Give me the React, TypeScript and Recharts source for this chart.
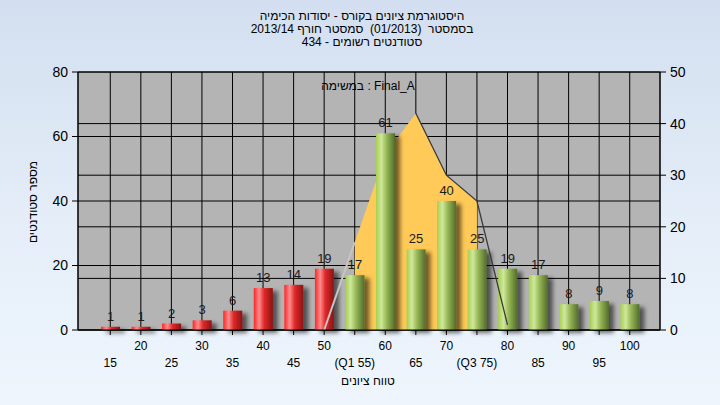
import React from 'react';
import {
  ComposedChart,
  Bar,
  Area,
  Line,
  XAxis,
  YAxis,
  CartesianGrid,
  LabelList,
} from 'recharts';

const categories = ['15', '20', '25', '30', '35', '40', '45', '50', '55', '60', '65', '70', '75', '80', '85', '90', '95', '100'];
const counts = [1, 1, 2, 3, 6, 13, 14, 19, 17, 61, 25, 40, 25, 19, 17, 8, 9, 8];
const tickLabels = ['15', '20', '25', '30', '35', '40', '45', '50', '(Q1 55)', '60', '65', '70', '(Q3 75)', '80', '85', '90', '95', '100'];
// distribution curve (right axis): filled between Q1 and Q3
const distInner: (number | null)[] = [null, null, null, null, null, null, null, null, 17, 34, 42, 30, 25, null, null, null, null, null];
const distLeft: (number | null)[] = [null, null, null, null, null, null, null, 0, 17, null, null, null, null, null, null, null, null, null];
const distRight: (number | null)[] = [null, null, null, null, null, null, null, null, null, null, 42, 30, 25, 1, null, null, null, null];
const passMark = 55;

const leftTicks = [0, 20, 40, 60, 80];
const rightTicks = [0, 10, 20, 30, 40, 50];

const titleLines = [
  'היסטוגרמת ציונים בקורס - יסודות הכימיה',
  'בסמסטר  (01/2013)  סמסטר חורף 2013/14',
  'סטודנטים רשומים - 434',
];
const legendText = 'במשימה : Final_A';
const yLabel = 'מספר סטודנטים';
const xLabel = 'טווח ציונים';

const FONT = '"Liberation Sans", Arial, "DejaVu Sans", sans-serif';

const data = categories.map((c, i) => ({
  cat: c,
  count: counts[i],
  inner: distInner[i],
  left: distLeft[i],
  right: distRight[i],
}));

const CylBar = (props: any) => {
  const { x, y, width, height, payload } = props;
  if (!height || height <= 0) return null;
  const g = Number(payload.cat) >= passMark ? 'gGreen' : 'gRed';
  return (
    <rect x={x} y={y} width={width} height={height} fill={`url(#${g})`} filter="url(#bshadow)" />
  );
};

const XTick = (props: any) => {
  const { x, y, payload, index } = props;
  const idx = typeof payload?.index === 'number' ? payload.index : index;
  const top = idx % 2 === 1;
  return (
    <text
      x={x}
      y={y + (top ? 13 : 30)}
      textAnchor="middle"
      fontSize={12}
      fontFamily={FONT}
      fill="#000"
    >
      {tickLabels[idx]}
    </text>
  );
};

export default function App() {
  return (
    <div
      style={{
        position: 'absolute',
        left: 0,
        top: 0,
        width: 720,
        height: 405,
        background: 'linear-gradient(to bottom, #d3dff0 0%, #e6eff9 60%, #eef5fd 100%)',
        fontFamily: FONT,
        overflow: 'hidden',
      }}
    >
      <svg width={0} height={0} style={{ position: 'absolute' }}>
        <defs>
          <linearGradient id="gRed" x1="0" y1="0" x2="1" y2="0">
            <stop offset="0%" stopColor="#ff2424" />
            <stop offset="28%" stopColor="#ff8c8c" />
            <stop offset="55%" stopColor="#e02828" />
            <stop offset="100%" stopColor="#8a1414" />
          </linearGradient>
          <linearGradient id="gGreen" x1="0" y1="0" x2="1" y2="0">
            <stop offset="0%" stopColor="#a6cf4e" />
            <stop offset="28%" stopColor="#cfe89c" />
            <stop offset="55%" stopColor="#97b856" />
            <stop offset="100%" stopColor="#526c2c" />
          </linearGradient>
          <filter id="bshadow" filterUnits="userSpaceOnUse" x="0" y="0" width="720" height="405">
            <feDropShadow dx="5" dy="3" stdDeviation="2.2" floodColor="#000" floodOpacity="0.55" />
          </filter>
        </defs>
      </svg>

      <div style={{ position: 'absolute', left: 0, width: 724, top: 10, textAlign: 'center', fontSize: 12, lineHeight: '13px', color: '#000' }}>
        {titleLines.map((t, i) => (
          <div key={i} style={{ direction: 'rtl', whiteSpace: 'pre' }}>{t}</div>
        ))}
      </div>

      <ComposedChart
        width={720}
        height={405}
        data={data}
        margin={{ top: 72, right: 0, bottom: 45, left: 38 }}
      >
        <CartesianGrid yAxisId="left" stroke="#000" strokeOpacity={1} fill="#b4b4b4" fillOpacity={1} />
        <CartesianGrid yAxisId="right" vertical={false} stroke="#000" strokeOpacity={1} />
        <XAxis
          dataKey="cat"
          interval={0}
          tick={<XTick />}
          tickSize={5}
          tickLine={{ stroke: '#000' }}
          axisLine={{ stroke: '#000' }}
          padding={{ left: 17, right: 15 }}
          height={30}
        />
        <YAxis
          yAxisId="left"
          domain={[0, 80]}
          ticks={leftTicks}
          width={40}
          tickSize={6}
          tickMargin={4}
          tick={{ fontSize: 14, fill: '#000', fontFamily: FONT }}
          tickLine={{ stroke: '#000' }}
          axisLine={{ stroke: '#000' }}
        />
        <YAxis
          yAxisId="right"
          orientation="right"
          domain={[0, 50]}
          ticks={rightTicks}
          width={60}
          tickSize={6}
          tickMargin={4}
          tick={{ fontSize: 14, fill: '#000', fontFamily: FONT }}
          tickLine={{ stroke: '#000' }}
          axisLine={{ stroke: '#000' }}
        />
        <Area
          yAxisId="right"
          dataKey="inner"
          type="linear"
          fill="#ffca57"
          fillOpacity={1}
          stroke="none"
          isAnimationActive={false}
          dot={false}
          activeDot={false}
        />
        <Line
          yAxisId="right"
          dataKey="left"
          type="linear"
          stroke="#c6c6c6"
          strokeWidth={2}
          dot={false}
          activeDot={false}
          isAnimationActive={false}
        />
        <Line
          yAxisId="right"
          dataKey="right"
          type="linear"
          stroke="#3a3a3a"
          strokeWidth={1.3}
          dot={false}
          activeDot={false}
          isAnimationActive={false}
        />
        <Bar
          yAxisId="left"
          dataKey="count"
          barSize={19}
          shape={<CylBar />}
          isAnimationActive={false}
        >
          <LabelList dataKey="count" position="top" offset={6} fill="#1a1a1a" fontSize={13} fontFamily={FONT} />
        </Bar>
      </ComposedChart>

      <div style={{ position: 'absolute', left: 300, width: 136, top: 79, textAlign: 'center', fontSize: 12, lineHeight: '14px', color: '#000', direction: 'ltr', whiteSpace: 'pre' }}>
        {legendText}
      </div>

      <div style={{ position: 'absolute', left: 300, width: 136, top: 374, textAlign: 'center', fontSize: 12, lineHeight: '14px', color: '#000', direction: 'rtl' }}>
        {xLabel}
      </div>

      <div
        style={{
          position: 'absolute',
          left: 33 - 60,
          top: 202 - 7,
          width: 120,
          height: 14,
          lineHeight: '14px',
          textAlign: 'center',
          fontSize: 12,
          color: '#000',
          direction: 'rtl',
          transform: 'rotate(-90deg)',
          transformOrigin: '60px 7px',
        }}
      >
        {yLabel}
      </div>
    </div>
  );
}
